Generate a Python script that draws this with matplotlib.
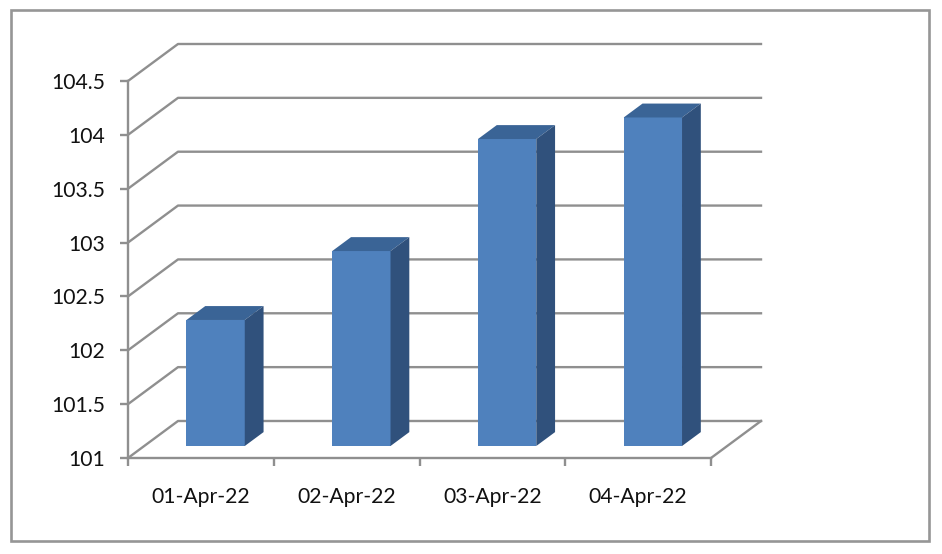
import matplotlib
matplotlib.use('Agg')
import matplotlib.pyplot as plt
from matplotlib.patches import Rectangle

dates = ['01-Apr-22', '02-Apr-22', '03-Apr-22', '04-Apr-22']
values = [102.17, 102.81, 103.85, 104.05]
y_ticks = [101, 101.5, 102, 102.5, 103, 103.5, 104, 104.5]

W, H = 942, 554
GREY = '#8f8f8f'

plt.rcParams['font.family'] = ['Lato', 'DejaVu Sans']

fig = plt.figure(figsize=(W / 100, H / 100), dpi=100, facecolor='white')
fig.add_artist(Rectangle((11 / W, 1 - 541 / H), 918 / W, 531 / H, transform=fig.transFigure,
                         fill=False, edgecolor='#969696', linewidth=1.9))

ax = fig.add_axes([128 / W, 1 - 458 / H, 583 / W, 377 / H])
ax.set_xlim(0, len(dates))
ax.set_ylim(y_ticks[0], y_ticks[-1])
ax.patch.set_visible(False)

# oblique depth of the 3d box, in data units
dx = 50 / 145.75
dy = 37 / 107.7

# walls and floor
for t in y_ticks:
    ax.plot([0, dx, len(dates) + dx], [t, t + dy, t + dy], color=GREY, lw=1.7, clip_on=False, zorder=1)
ax.plot([len(dates), len(dates) + dx], [y_ticks[0], y_ticks[0] + dy], color=GREY, lw=1.7, clip_on=False, zorder=1)

# bars sit in the middle part of the depth
d0 = 0.324
d1 = 0.70
bw = 0.4
for i, v in enumerate(values):
    xl = i + 0.49 - bw / 2 + d0 * dx
    xr = xl + bw
    base = y_ticks[0] + d0 * dy
    top = v + d0 * dy
    sx = (d1 - d0) * dx
    sy = (d1 - d0) * dy
    ax.bar(xl, top - base, bw, bottom=base, align='edge', color='#4f81bd', zorder=3, clip_on=False)
    ax.fill([xl, xr, xr + sx, xl + sx], [top, top, top + sy, top + sy],
            color='#3a6496', lw=0, zorder=3, clip_on=False)
    ax.fill([xr, xr + sx, xr + sx, xr], [base, base + sy, top + sy, top],
            color='#30517c', lw=0, zorder=3, clip_on=False)

for s in ['top', 'right']:
    ax.spines[s].set_visible(False)
for s in ['left', 'bottom']:
    ax.spines[s].set_color(GREY)
    ax.spines[s].set_linewidth(1.7)

ax.set_yticks(y_ticks)
ax.set_yticklabels([f'{t:g}' for t in y_ticks])
ax.set_xticks(range(len(dates) + 1))
ax.set_xticklabels([])
ax.set_xticks([i + 0.5 for i in range(len(dates))], dates, minor=True)
ax.tick_params(axis='y', length=5.5, width=1.7, color=GREY, pad=11, labelsize=15.2, labelcolor='#111111')
ax.tick_params(axis='x', which='major', length=5.5, width=1.7, color=GREY)
ax.tick_params(axis='x', which='minor', length=0, pad=21, labelsize=15.2, labelcolor='#111111')

fig.savefig('out.png', dpi=100, facecolor='white')
